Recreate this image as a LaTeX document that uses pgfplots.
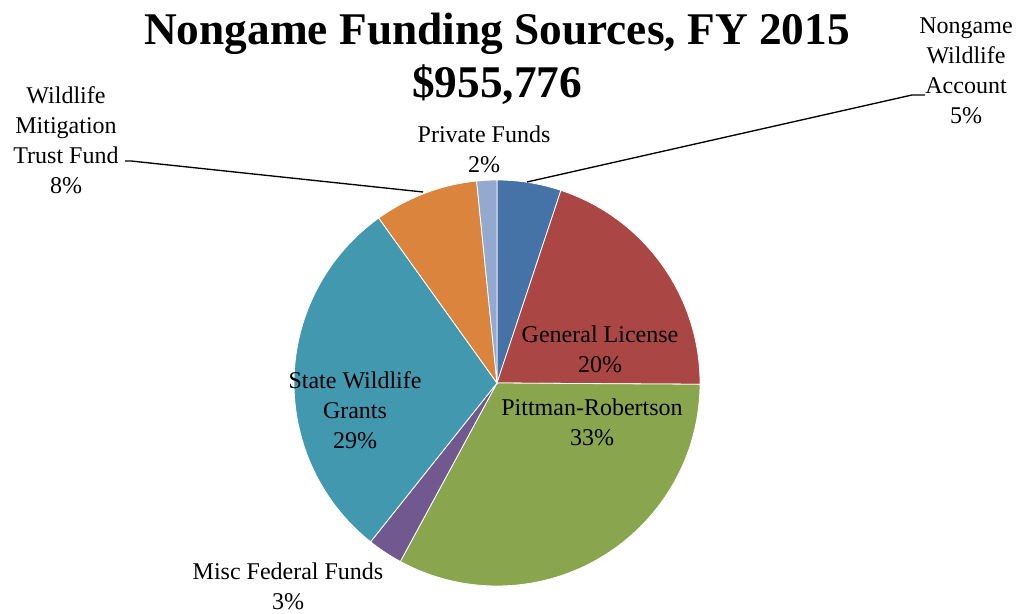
\documentclass[border=0pt]{standalone}
\usepackage{pgfplots}
\usepackage{pgfplotstable}
\pgfplotsset{compat=1.18}
\usepackage{fontspec}
\setmainfont{Liberation Serif}

\definecolor{c0}{RGB}{69,114,167}
\definecolor{c1}{RGB}{170,70,67}
\definecolor{c2}{RGB}{137,165,78}
\definecolor{c3}{RGB}{113,88,143}
\definecolor{c4}{RGB}{65,152,175}
\definecolor{c5}{RGB}{219,132,61}
\definecolor{c6}{RGB}{147,169,207}

% share of each source, percent, clockwise from 12 o'clock
\pgfplotstableread{
value
5.1
20.0
32.8
2.8
29.4
8.3
1.6
}\slices

\begin{document}
\begin{tikzpicture}[lbl/.style={font=\fontsize{18}{22.5}\selectfont, align=center, text=black, inner sep=0pt}]
\begin{axis}[
    width=764.25pt, height=459.75pt,
    scale only axis,
    xmin=0, xmax=1019, ymin=0, ymax=613,
    hide axis, clip=false,
]
\def\cum{0}
\pgfplotsforeachungrouped \i in {0,...,6}{
  \pgfplotstablegetelem{\i}{value}\of\slices
  \pgfmathsetmacro\a{90-3.6*\cum}
  \pgfmathsetmacro\b{90-3.6*(\cum+\pgfplotsretval)}
  \edef\temp{\noexpand\fill[c\i, draw=white, line width=0.6pt]
    (axis cs:497,230) -- ++(\a:152.25pt)
    arc[start angle=\a, end angle=\b, radius=152.25pt] -- cycle;}
  \temp
  \pgfmathsetmacro\cum{\cum+\pgfplotsretval}
}

% title
\node[font=\fontsize{34}{39.75}\selectfont\bfseries, align=center, inner sep=0pt]
  at (axis cs:497,554) {Nongame Funding Sources, FY 2015\\\$955,776};

% leader lines
\draw[black, line width=1pt] (axis cs:527,431) -- (axis cs:912,518) -- (axis cs:925,518);
\draw[black, line width=1pt] (axis cs:125,452) -- (axis cs:131,452) -- (axis cs:423,421);

% labels
\node[lbl] at (axis cs:966,542) {Nongame\\Wildlife\\Account\\5\%};
\node[lbl] at (axis cs:66,473) {Wildlife\\Mitigation\\Trust Fund\\8\%};
\node[lbl] at (axis cs:484,464) {Private Funds\\2\%};
\node[lbl] at (axis cs:600,264) {General License\\20\%};
\node[lbl] at (axis cs:592,191) {Pittman-Robertson\\33\%};
\node[lbl] at (axis cs:355,203) {State Wildlife\\Grants\\29\%};
\node[lbl] at (axis cs:288,27) {Misc Federal Funds\\3\%};
\end{axis}
\pgfresetboundingbox
\useasboundingbox (current axis.south west) rectangle (current axis.north east);
\end{tikzpicture}
\end{document}
